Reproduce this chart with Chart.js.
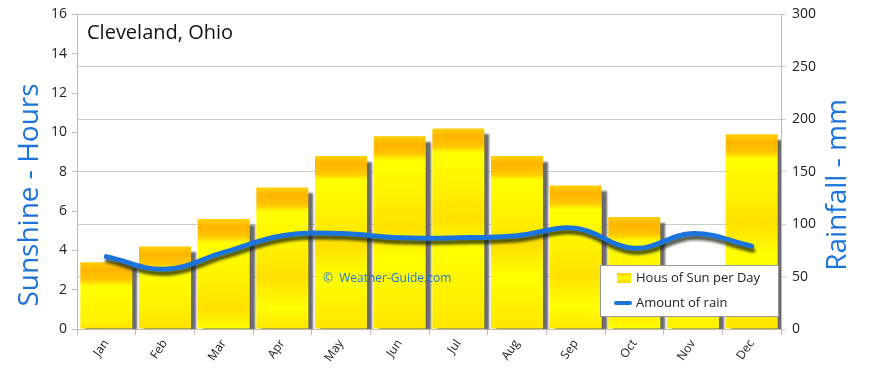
<!DOCTYPE html>
<html>
<head>
<meta charset="utf-8">
<script src="https://cdn.jsdelivr.net/npm/chart.js@4/dist/chart.umd.min.js"></script>
<style>
  html, body { margin: 0; padding: 0; background: #fff; }
  #wrap { width: 870px; height: 368px; position: relative; }
</style>
</head>
<body>
<div id="wrap"><canvas id="chart" width="870" height="368"></canvas></div>
<script>
// values
const months = ['Jan', 'Feb', 'Mar', 'Apr', 'May', 'Jun', 'Jul', 'Aug', 'Sep', 'Oct', 'Nov', 'Dec'];
const sunHours = [3.4, 4.2, 5.6, 7.2, 8.8, 9.8, 10.2, 8.8, 7.3, 5.7, 3.0, 9.9];
const rainMm = [69, 57, 73, 89, 91, 87, 87, 89, 96, 77, 91, 79];
const hourTicks = [0, 2, 4, 6, 8, 10, 12, 14, 16];
const rainTicks = [0, 50, 100, 150, 200, 250, 300];

const FONT = "'Open Sans', 'DejaVu Sans', sans-serif";
const BLUE = '#1b74dc';
const INK = '#222';

// yellow bar with an orange band at its top
function sunFill(c) {
  const chart = c.chart;
  const area = chart.chartArea;
  if (!area || c.type !== 'data') return '#ffee00';
  const top = chart.scales.y.getPixelForValue(c.raw);
  const g = chart.ctx.createLinearGradient(0, top, 0, area.bottom);
  const h = area.bottom - top;
  const s = (px) => Math.min(1, Math.max(0, px / h));
  g.addColorStop(0, '#ffd000');
  g.addColorStop(s(8), '#ffb400');
  g.addColorStop(s(18), '#ffc800');
  g.addColorStop(s(24), '#ffff00');
  g.addColorStop(s(60), '#fff200');
  g.addColorStop(s(90), '#ffe000');
  g.addColorStop(s(120), '#ffff00');
  g.addColorStop(1, '#ffe600');
  return g;
}

const shadows = {
  id: 'shadows',
  beforeDatasetDraw(chart, args) {
    const ctx = chart.ctx;
    ctx.save();
    if (args.meta.type === 'bar') {
      ctx.shadowColor = 'rgba(90,90,90,0.9)';
      ctx.shadowOffsetX = 5;
      ctx.shadowOffsetY = 6;
      ctx.shadowBlur = 2;
    } else {
      ctx.shadowColor = 'rgba(20,30,10,0.75)';
      ctx.shadowOffsetX = 1;
      ctx.shadowOffsetY = 4;
      ctx.shadowBlur = 3;
    }
  },
  afterDatasetDraw(chart) {
    chart.ctx.restore();
  }
};

function sideTitle(ctx, text, x, y) {
  ctx.save();
  ctx.translate(x, y);
  ctx.rotate(-Math.PI / 2);
  ctx.fillText(text, 0, 0);
  ctx.restore();
}

const decor = {
  id: 'decor',
  afterDraw(chart) {
    const ctx = chart.ctx;
    const a = chart.chartArea;
    ctx.save();
    // place name
    ctx.fillStyle = '#111';
    ctx.font = '20px ' + FONT;
    ctx.textBaseline = 'middle';
    ctx.textAlign = 'left';
    ctx.fillText('Cleveland, Ohio', a.left + 10, 33);
    // axis titles, both read bottom to top
    ctx.fillStyle = BLUE;
    ctx.font = '28px ' + FONT;
    ctx.textAlign = 'center';
    sideTitle(ctx, 'Sunshine - Hours', 30, 195);
    sideTitle(ctx, 'Rainfall - mm', 838, 185);
    ctx.textAlign = 'left';
    // watermark
    ctx.font = '12px ' + FONT;
    ctx.fillText('\u00a9  Weather-Guide.com', 323, 279);
    // legend
    const bars = chart.data.datasets.find(d => d.type === 'bar');
    const line = chart.data.datasets.find(d => d.type === 'line');
    const lx = 600, ly = 265, lw = 178, lh = 51;
    ctx.fillStyle = '#fff';
    ctx.fillRect(lx, ly, lw, lh);
    ctx.strokeStyle = '#999';
    ctx.lineWidth = 1;
    ctx.strokeRect(lx + 0.5, ly + 0.5, lw, lh);
    const g = ctx.createLinearGradient(0, ly + 7, 0, ly + 18);
    g.addColorStop(0, '#ffc000');
    g.addColorStop(0.5, '#ffff00');
    g.addColorStop(1, '#ffd400');
    ctx.fillStyle = g;
    ctx.fillRect(lx + 17, ly + 8, 14, 10);
    ctx.strokeStyle = BLUE;
    ctx.lineWidth = 4;
    ctx.lineCap = 'round';
    ctx.beginPath();
    ctx.moveTo(lx + 16, ly + 38);
    ctx.lineTo(lx + 30, ly + 38);
    ctx.stroke();
    ctx.fillStyle = INK;
    ctx.font = '13px ' + FONT;
    ctx.fillText(bars.label, lx + 36, ly + 13);
    ctx.fillText(line.label, lx + 36, ly + 38);
    ctx.restore();
  }
};

new Chart(document.getElementById('chart'), {
  data: {
    labels: months,
    datasets: [
      {
        type: 'line',
        label: 'Amount of rain',
        data: rainMm,
        yAxisID: 'y1',
        borderColor: BLUE,
        borderWidth: 5,
        borderCapStyle: 'round',
        tension: 0.4,
        pointRadius: 0,
        order: 0
      },
      {
        type: 'bar',
        label: 'Hous of Sun per Day',
        data: sunHours,
        yAxisID: 'y',
        backgroundColor: sunFill,
        borderWidth: 0,
        barPercentage: 0.886,
        categoryPercentage: 1,
        order: 1
      }
    ]
  },
  options: {
    responsive: false,
    animation: false,
    layout: { padding: { top: 10, left: 0, right: 0, bottom: 0 } },
    plugins: {
      legend: { display: false },
      tooltip: { enabled: false }
    },
    scales: {
      x: {
        grid: { offset: true, drawOnChartArea: false, tickLength: 6, color: '#bbb' },
        border: { color: '#bbb' },
        ticks: { color: INK, font: { family: FONT, size: 12 }, minRotation: 55, maxRotation: 55, padding: 2 },
        afterFit(s) { s.height = 39; }
      },
      y: {
        position: 'left',
        min: 0, max: 16,
        afterBuildTicks(s) { s.ticks = hourTicks.map(v => ({ value: v })); },
        grid: { drawOnChartArea: false, tickLength: 5, color: '#bbb' },
        border: { color: '#bbb' },
        ticks: { color: INK, font: { family: FONT, size: 14 }, padding: 5 },
        afterFit(s) { s.width = 77; }
      },
      y1: {
        position: 'right',
        min: 0, max: 300,
        afterBuildTicks(s) { s.ticks = rainTicks.map(v => ({ value: v })); },
        grid: { color: '#ccc', tickLength: 5 },
        border: { color: '#bbb' },
        ticks: { color: INK, font: { family: FONT, size: 14 }, padding: 6 },
        afterFit(s) { s.width = 89; }
      }
    }
  },
  plugins: [shadows, decor]
});
</script>
</body>
</html>
